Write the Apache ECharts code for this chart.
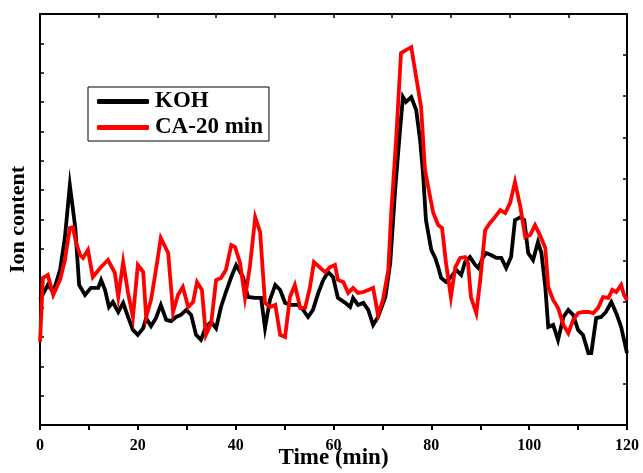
<!doctype html>
<html lang="en">
<head>
    <meta charset="utf-8">
    <title>Ion content</title>
    <script src="https://cdn.jsdelivr.net/npm/echarts@6/dist/echarts.min.js"></script>
    <style>
        html, body { margin: 0; padding: 0; background: #fff; }
        #main { width: 643px; height: 473px; }
    </style>
</head>
<body>

<div id="main"></div>

<script>
    // x 轴刻度
    var xTicks = [0, 20, 40, 60, 80, 100, 120];

    // KOH 曲线 (time, value)
    var kohTime = [0, 1.6, 2.7, 4.1, 5.1, 6.1, 7.2, 8.0, 9.2, 10.4, 11.9, 12.5, 13.3, 14.1, 14.9, 16.0, 17.0, 18.0, 19.0, 20.0,
        21.1, 21.7, 22.7, 23.7, 24.7, 25.8, 26.8, 27.8, 28.8, 29.9, 30.9, 31.9, 32.9, 33.9, 35.0, 36.0, 37.0, 38.0, 39.1, 40.1,
        41.5, 42.5, 44.0, 45.2, 46.0, 47.0, 48.1, 49.1, 50.1, 51.3, 52.8, 53.8, 54.8, 55.8, 56.9, 57.9, 58.9, 59.9, 60.9,
        62.4, 63.4, 64.0, 65.0, 66.1, 67.1, 68.1, 69.1, 70.6, 71.6, 72.6, 73.6, 74.2, 74.8, 75.9, 76.9, 77.7, 78.3, 78.9, 80.0,
        80.8, 81.4, 82.0, 83.0, 84.0, 85.1, 86.1, 86.9, 87.9, 89.0, 89.6, 90.6, 91.2, 92.2, 93.3, 94.3, 95.3, 96.3, 97.1, 98.2,
        99.0, 99.8, 100.8, 101.8, 102.5, 103.3, 103.9, 104.9, 105.9, 107.0, 108.0, 109.0, 110.0, 111.0, 112.1, 112.7, 113.7,
        114.7, 115.7, 116.8, 117.8, 118.8, 120];
    var kohValue = [42.6, 47.7, 45.3, 52.8, 64.0, 81.7, 67.4, 47.7, 44.3, 46.7, 46.7, 49.4, 46.0, 40.2, 41.9, 38.5, 41.6, 36.8, 32.4, 30.7,
        33.0, 36.4, 33.7, 36.4, 40.9, 35.8, 35.4, 36.8, 37.5, 39.2, 37.5, 30.7, 29.0, 33.4, 35.1, 33.0, 40.2, 45.3, 50.4, 54.5,
        50.4, 43.6, 43.3, 43.3, 33.0, 42.6, 47.7, 46.0, 41.6, 40.9, 40.9, 39.2, 36.8, 39.2, 45.0, 49.4, 52.1, 50.4, 43.3,
        41.6, 40.2, 43.3, 40.9, 41.6, 39.2, 34.1, 36.8, 43.6, 55.2, 80.0, 100.5, 111.7, 110.0, 111.7, 107.3, 97.1, 85.8, 69.8, 59.6,
        56.9, 53.8, 50.1, 48.7, 50.4, 52.8, 51.1, 55.5, 57.2, 54.5, 53.5, 57.2, 58.6, 57.9, 56.9, 56.9, 53.5, 57.2, 69.8, 70.8,
        69.8, 58.6, 56.2, 62.3, 58.6, 47.0, 33.4, 34.1, 29.0, 36.8, 39.2, 37.5, 32.4, 30.7, 24.5, 24.5, 36.4,
        36.8, 38.5, 41.9, 38.1, 33.4, 24.5];

    // CA-20 min 曲线 (time, value)
    var caTime = [0, 0.6, 1.6, 2.7, 4.1, 5.1, 6.1, 6.7, 7.4, 8.2, 8.8, 9.8, 10.8, 12.3, 13.9, 15.3, 16.0, 17.0, 18.0, 19.0, 20.0,
        21.1, 21.7, 22.7, 23.7, 24.7, 26.2, 27.2, 28.2, 29.2, 30.3, 31.3, 32.1, 33.1, 33.9, 35.0, 36.0, 37.0, 38.0, 39.1, 39.9,
        40.9, 41.9, 42.9, 44.0, 45.0, 46.0, 47.0, 48.1, 49.1, 50.1, 51.1, 52.1, 53.2, 54.2, 55.2, 56.0, 57.3, 58.3, 59.3, 60.3,
        60.9, 62.0, 63.0, 64.0, 65.0, 66.1, 67.1, 68.1, 69.1, 70.1, 71.2, 71.8, 72.8, 73.8, 74.8, 75.9, 76.9, 77.9, 78.7, 79.6,
        80.4, 81.4, 82.2, 83.0, 84.0, 84.9, 85.9, 86.9, 87.5, 88.1, 89.2, 90.0, 91.0, 92.0, 93.0, 94.1, 95.1, 96.1, 97.1, 98.2,
        99.2, 100.2, 101.2, 102.2, 103.3, 103.9, 104.9, 105.9, 107.0, 108.0, 109.0, 110.0, 111.0, 112.1, 113.1, 114.1, 115.1,
        116.2, 117.0, 117.8, 118.8, 119.4, 120];
    var caValue = [28.3, 50.1, 51.1, 44.3, 49.4, 56.2, 67.1, 67.4, 62.0, 57.9, 56.9, 59.6, 50.4, 53.5, 56.2, 51.8, 43.6, 55.5, 45.0, 36.8, 54.5,
        52.1, 36.8, 42.6, 52.8, 63.7, 58.6, 38.5, 44.3, 47.0, 40.2, 41.9, 48.7, 46.0, 30.7, 34.7, 49.4, 50.1, 52.8, 61.3, 60.6,
        55.2, 43.3, 53.8, 70.8, 65.7, 41.6, 40.2, 40.9, 30.7, 30.0, 43.6, 47.7, 39.9, 39.9, 47.0, 55.5, 53.5, 52.1, 53.8, 54.5,
        49.4, 48.7, 45.0, 46.7, 45.0, 45.3, 46.0, 46.7, 37.5, 42.6, 52.8, 72.2, 97.1, 126.7, 127.7, 128.7, 118.5, 108.3, 86.9, 79.0,
        72.2, 68.1, 67.1, 55.2, 43.6, 53.8, 56.9, 57.2, 55.2, 43.6, 38.1, 49.4, 66.4, 68.8, 70.8, 73.2, 72.2, 75.6, 82.8, 74.3,
        64.0, 64.7, 68.1, 64.7, 60.3, 47.0, 42.6, 39.9, 34.1, 31.3, 35.8, 38.1, 38.5, 38.5, 38.1, 39.9, 43.6,
        43.3, 46.0, 45.3, 47.7, 44.3, 42.6];

    var pairs = function(t, v) {
        var res = [];
        for (var i = 0; i < t.length; i++) {
            res.push([t[i], v[i]]);
        }
        return res;
    };

    var fontFamily = "'Liberation Serif', 'Times New Roman', serif";
    var axisLine = { show: true, onZero: false, lineStyle: { color: '#000', width: 2 } };

    var myChart = echarts.init(document.getElementById('main'));

    var option = {
        animation: false,
        backgroundColor: '#fff',
        grid: { left: 40, right: 16, top: 14, bottom: 48, containLabel: false, outerBoundsMode: 'none' },
        legend: {
            orient: 'vertical',
            left: 88,
            top: 87,
            padding: [3, 6, 2, 9],
            itemGap: 3,
            itemWidth: 52,
            itemHeight: 5,
            borderColor: '#000',
            borderWidth: 1,
            textStyle: { fontFamily: fontFamily, fontWeight: 'bold', fontSize: 23, color: '#000', padding: [0, 0, 0, 1] },
            data: [
                { name: 'KOH', icon: 'roundRect', itemStyle: { color: '#000' } },
                { name: 'CA-20 min', icon: 'roundRect', itemStyle: { color: '#ff0000' } }
            ]
        },
        xAxis: [{
            type: 'value',
            min: 0,
            max: 120,
            interval: 10,
            position: 'bottom',
            name: 'Time (min)',
            nameLocation: 'middle',
            nameGap: 22,
            nameMoveOverlap: false,
            nameTextStyle: { fontFamily: fontFamily, fontWeight: 'bold', fontSize: 23, color: '#000' },
            axisLine: axisLine,
            axisTick: { show: true, inside: false, length: 5, lineStyle: { color: '#000', width: 2 } },
            axisLabel: {
                margin: 13,
                fontFamily: fontFamily, fontWeight: 'bold', fontSize: 16, color: '#000',
                formatter: function(v) { return xTicks.indexOf(v) >= 0 ? String(v) : ''; }
            },
            splitLine: { show: false }
        }, {
            type: 'value',
            min: 0,
            max: 100,
            interval: 10,
            position: 'top',
            axisLine: axisLine,
            axisTick: { show: true, inside: true, length: 4, lineStyle: { color: '#000', width: 1.5 } },
            axisLabel: { show: false },
            splitLine: { show: false }
        }],
        yAxis: [{
            type: 'value',
            min: 0,
            max: 140,
            interval: 10,
            position: 'left',
            name: 'Ion content',
            nameLocation: 'middle',
            nameGap: 11,
            nameMoveOverlap: false,
            nameTextStyle: { fontFamily: fontFamily, fontWeight: 'bold', fontSize: 22, color: '#000' },
            axisLine: axisLine,
            axisTick: { show: true, inside: true, length: 4, lineStyle: { color: '#000', width: 1.5 } },
            axisLabel: { show: false },
            splitLine: { show: false }
        }, {
            type: 'value',
            min: 0,
            max: 100,
            interval: 10,
            position: 'right',
            axisLine: axisLine,
            axisTick: { show: true, inside: true, length: 4, lineStyle: { color: '#000', width: 1.5 } },
            axisLabel: { show: false },
            splitLine: { show: false }
        }],
        series: [{
            name: 'KOH',
            type: 'line',
            xAxisIndex: 0,
            yAxisIndex: 0,
            showSymbol: false,
            symbol: 'none',
            lineStyle: { color: '#000', width: 3.8, join: 'miter' },
            itemStyle: { color: '#000' },
            data: pairs(kohTime, kohValue)
        }, {
            name: 'CA-20 min',
            type: 'line',
            xAxisIndex: 0,
            yAxisIndex: 0,
            showSymbol: false,
            symbol: 'none',
            lineStyle: { color: '#ff0000', width: 3.8, join: 'miter' },
            itemStyle: { color: '#ff0000' },
            data: pairs(caTime, caValue)
        }]
    };

    myChart.setOption(option);
</script>
</body>
</html>
